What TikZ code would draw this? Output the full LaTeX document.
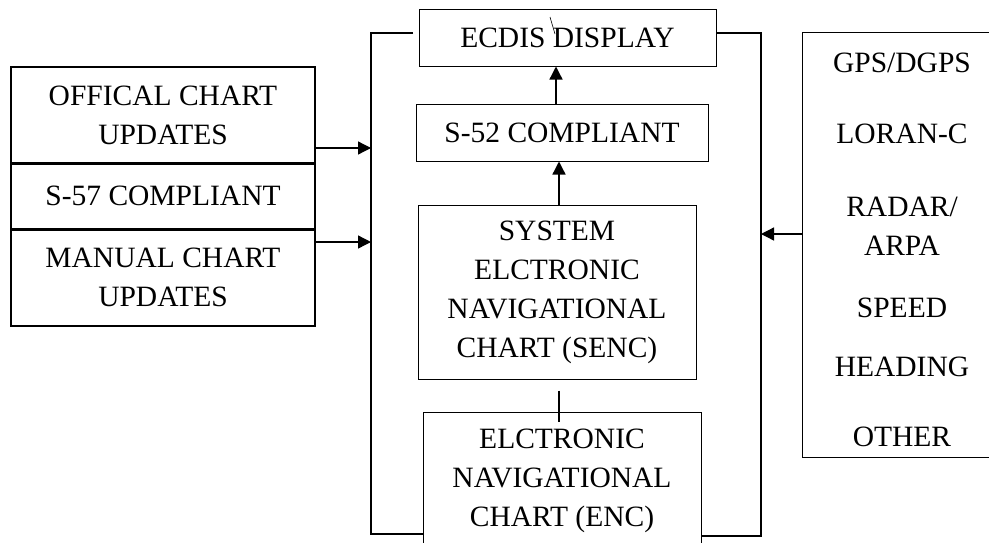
\documentclass[tikz,border=0pt]{standalone}
\usepackage{fontspec}
\setmainfont{Liberation Serif}
\usetikzlibrary{arrows.meta,calc}
\begin{document}
\begin{tikzpicture}[x=1pt,y=-1pt,
 txt/.style={font=\fontsize{29.5}{39}\selectfont},
 box/.style={draw, line width=1pt, inner sep=0pt, align=center, txt},
 lbox/.style={box, line width=1.6pt},
 lbl/.style={inner sep=0pt, txt, anchor=base},
 wire/.style={line width=1.3pt},
 divider/.style={line width=3pt},
 arr/.style={wire, -{Triangle[length=13pt,width=13pt]}}]
\useasboundingbox (0,0) rectangle (989,542);
\clip (0,0) rectangle (989,542);

% middle column
\node[box, minimum width=297pt, minimum height=57pt] (ecdis) at (567.5,37.5) {ECDIS DISPLAY};
\node[box, minimum width=292pt, minimum height=57pt] (s52) at (562,132.5) {S-52 COMPLIANT};
\node[box, minimum width=278pt, minimum height=174pt] (senc) at (557,292) {SYSTEM\\ELCTRONIC\\NAVIGATIONAL\\CHART (SENC)};
\node[box, minimum width=278pt, minimum height=138pt] (enc) at (562,481) {ELCTRONIC\\NAVIGATIONAL\\CHART (ENC)};

% left column
\node[lbox, minimum width=304pt, minimum height=96pt] (offical) at (163,115) {OFFICAL CHART\\UPDATES};
\node[lbox, minimum width=304pt, minimum height=66pt] (s57) at (163,196) {S-57 COMPLIANT};
\node[lbox, minimum width=304pt, minimum height=97pt] (manual) at (163,277.5) {MANUAL CHART\\UPDATES};
\draw[divider] (offical.south west) -- (offical.south east);
\draw[divider] (s57.south west) -- (s57.south east);

% right column
\node[draw, line width=1pt, minimum width=208pt, minimum height=425pt, inner sep=0pt] (sensors) at (906,244.5) {};
\node[lbl] (gps) at (902,72) {GPS/DGPS};
\node[lbl] (loran) at (902,143) {LORAN-C};
\node[lbl] (radar) at (902,216) {RADAR/};
\node[lbl] (arpa) at (902,255) {ARPA};
\node[lbl] (speed) at (902,317) {SPEED};
\node[lbl] (heading) at (902,376) {HEADING};
\node[lbl] (other) at (902,446) {OTHER};

% brackets
\coordinate (ltopend) at (413,33);
\coordinate (ltop) at (371,33);
\coordinate (lbot) at (371,534);
\coordinate (rtop) at (761,33);
\coordinate (rbot) at (761,536);
\draw[wire] (ltopend) -- (ltop) -- (lbot) -- (enc.west |- lbot);
\draw[wire] (ecdis.east |- rtop) -- (rtop) -- (rbot) -- (enc.east |- rbot);

% arrows
\coordinate (in1) at (371,148);
\coordinate (in2) at (371,242);
\coordinate (in3) at (761,234);
\draw[arr] (offical.east |- in1) -- (in1);
\draw[arr] (manual.east |- in2) -- (in2);
\draw[arr] (sensors.west |- in3) -- (in3);

\coordinate (a1) at (556,0);
\coordinate (a2) at (559,0);
\draw[arr] (s52.north -| a1) -- (ecdis.south -| a1);
\draw[arr] (senc.north -| a2) -- (s52.south -| a2);
\draw[wire] ($(senc.south -| a2)+(0,11)$) -- ($(enc.north -| a2)+(0,10)$);

% stray stroke in ECDIS box
\draw[line width=0.6pt] (550,17) -- (555,34);
\end{tikzpicture}
\end{document}
